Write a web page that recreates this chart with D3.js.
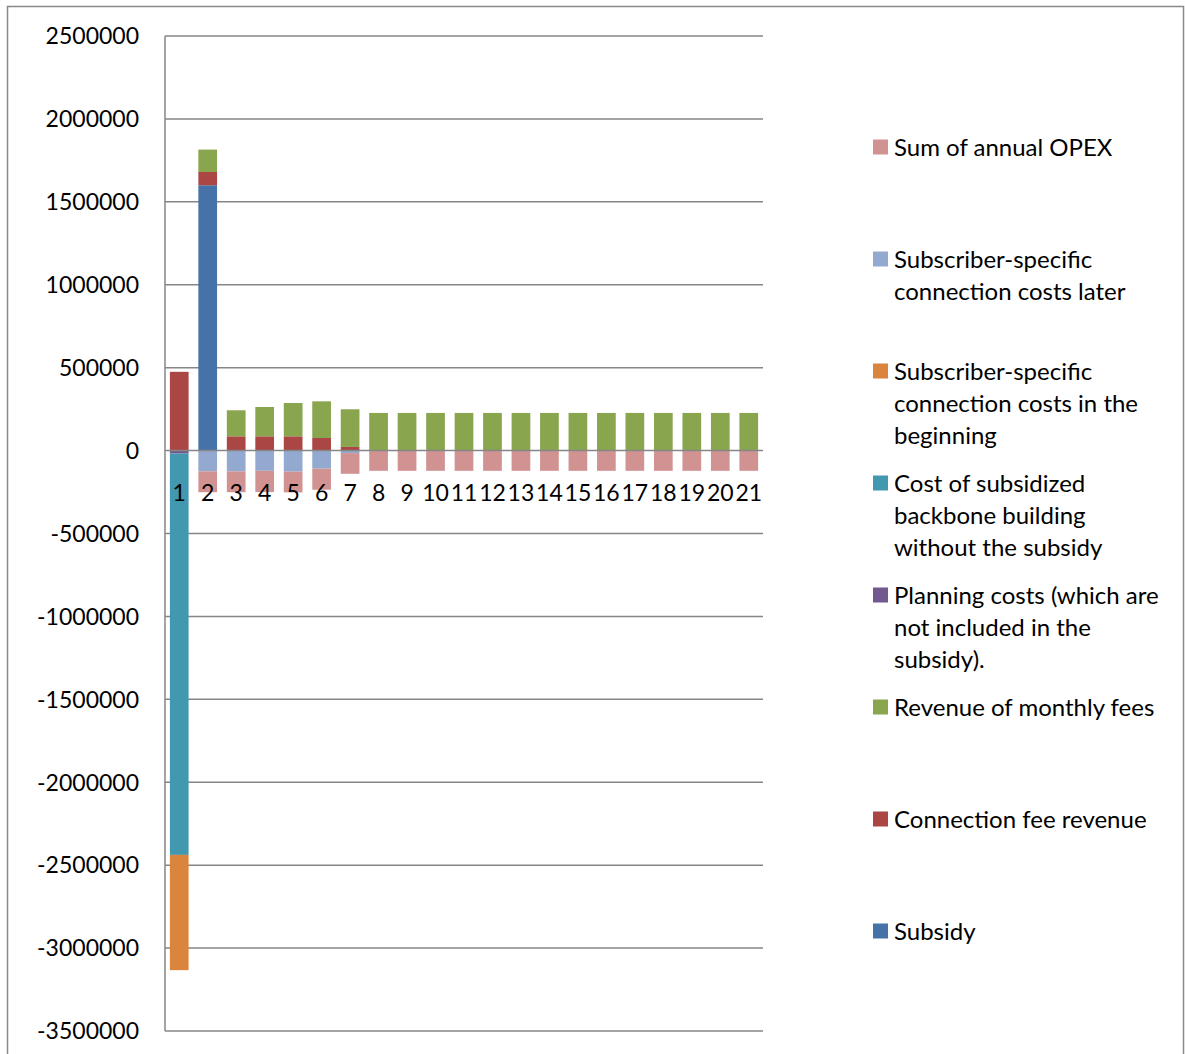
<!DOCTYPE html>
<html>
<head>
<meta charset="utf-8">
<script src="https://cdn.jsdelivr.net/npm/d3@7"></script>
<style>
  body { margin: 0; background: #ffffff; }
  text { font-family: Lato, "Open Sans", sans-serif; fill: #000000; }
</style>
</head>
<body>
<div id="chart_area"></div>
<script>

// categories (years 1..21)
var categories = ["1","2","3","4","5","6","7","8","9","10","11","12","13","14","15","16","17","18","19","20","21"];

// series values, in excel series order
var subsidy =        [0, 1600000, 0, 0, 0, 0, 0, 0, 0, 0, 0, 0, 0, 0, 0, 0, 0, 0, 0, 0, 0];
var connectionFee =  [475000, 80000, 86000, 86000, 86000, 76000, 22000, 0, 0, 0, 0, 0, 0, 0, 0, 0, 0, 0, 0, 0, 0];
var monthlyFees =    [0, 135000, 157000, 177000, 201000, 221000, 227000, 227000, 227000, 227000, 227000, 227000, 227000, 227000, 227000, 227000, 227000, 227000, 227000, 227000, 227000];
var planningCosts =  [-18000, 0, 0, 0, 0, 0, 0, 0, 0, 0, 0, 0, 0, 0, 0, 0, 0, 0, 0, 0, 0];
var backboneCost =   [-2420000, 0, 0, 0, 0, 0, 0, 0, 0, 0, 0, 0, 0, 0, 0, 0, 0, 0, 0, 0, 0];
var subsBeginning =  [-695000, 0, 0, 0, 0, 0, 0, 0, 0, 0, 0, 0, 0, 0, 0, 0, 0, 0, 0, 0, 0];
var subsLater =      [0, -125000, -125000, -122000, -127000, -109000, -15000, 0, 0, 0, 0, 0, 0, 0, 0, 0, 0, 0, 0, 0, 0];
var annualOpex =     [0, -126000, -126000, -128000, -125000, -127000, -125000, -122000, -122000, -122000, -122000, -122000, -122000, -122000, -122000, -122000, -122000, -122000, -122000, -122000, -122000];

var yTicks = [2500000, 2000000, 1500000, 1000000, 500000, 0, -500000, -1000000, -1500000, -2000000, -2500000, -3000000, -3500000];

var series = [
    { key: "subsidy", values: subsidy, color: "#4572A7", label: ["Subsidy"] },
    { key: "connectionFee", values: connectionFee, color: "#AA4643", label: ["Connection fee revenue"] },
    { key: "monthlyFees", values: monthlyFees, color: "#89A54E", label: ["Revenue of monthly fees"] },
    { key: "planningCosts", values: planningCosts, color: "#71588F", label: ["Planning costs (which are", "not included in the", "subsidy)."] },
    { key: "backboneCost", values: backboneCost, color: "#4198AF", label: ["Cost of subsidized", "backbone building", "without the subsidy"] },
    { key: "subsBeginning", values: subsBeginning, color: "#DB843D", label: ["Subscriber-specific", "connection costs in the", "beginning"] },
    { key: "subsLater", values: subsLater, color: "#93A9CF", label: ["Subscriber-specific", "connection costs later"] },
    { key: "annualOpex", values: annualOpex, color: "#D19392", label: ["Sum of annual OPEX"] }
];

var width = 1185, height = 1054;
var plot = { left: 165, right: 763, top: 36, bottom: 1031 };

var svg = d3.select("#chart_area").append("svg")
    .attr("width", width)
    .attr("height", height);

// chart area border
svg.append("rect")
    .attr("x", 7.5).attr("y", 6.5)
    .attr("width", 1176).attr("height", 1060)
    .style("fill", "none")
    .style("stroke", "#898989")
    .style("stroke-width", 1.5);

var x = d3.scaleBand()
    .domain(categories)
    .range([plot.left, plot.right])
    .paddingInner(0.343)
    .paddingOuter(0.1715);

var y = d3.scaleLinear()
    .domain([-3500000, 2500000])
    .range([plot.bottom, plot.top]);

// gridlines
svg.append("g").selectAll("line")
    .data(yTicks.filter(function(d) { return d != 0; }))
    .enter().append("line")
    .attr("x1", plot.left).attr("x2", plot.right)
    .attr("y1", function(d) { return y(d); })
    .attr("y2", function(d) { return y(d); })
    .style("stroke", "#868686")
    .style("stroke-width", 1.5);

// y tick labels
svg.append("g").selectAll("text")
    .data(yTicks)
    .enter().append("text")
    .attr("x", 139)
    .attr("y", function(d) { return y(d); })
    .attr("dy", "0.36em")
    .attr("text-anchor", "end")
    .attr("font-size", 23)
    .text(function(d) { return d; });

// stacked bars
var table = categories.map(function(c, i) {
    var row = { cat: c };
    series.forEach(function(s) { row[s.key] = s.values[i]; });
    return row;
});

var stack = d3.stack()
    .keys(series.map(function(s) { return s.key; }))
    .offset(d3.stackOffsetDiverging);

var layers = stack(table);

svg.append("g").selectAll("g")
    .data(layers)
    .enter().append("g")
    .style("fill", function(d, i) { return series[i].color; })
    .selectAll("rect")
    .data(function(d) { return d; })
    .enter().append("rect")
    .attr("x", function(d) { return x(d.data.cat); })
    .attr("width", x.bandwidth())
    .attr("y", function(d) { return y(Math.max(d[0], d[1])); })
    .attr("height", function(d) { return Math.abs(y(d[0]) - y(d[1])); });

// axis lines
svg.append("line")
    .attr("x1", plot.left).attr("x2", plot.left)
    .attr("y1", plot.top).attr("y2", plot.bottom)
    .style("stroke", "#868686")
    .style("stroke-width", 1.5);

svg.append("line")
    .attr("x1", plot.left).attr("x2", plot.right)
    .attr("y1", y(0)).attr("y2", y(0))
    .style("stroke", "#868686")
    .style("stroke-width", 1.5);

// category labels
svg.append("g").selectAll("text")
    .data(categories)
    .enter().append("text")
    .attr("x", function(d) { return x(d) + x.bandwidth() / 2; })
    .attr("y", y(0) + 42)
    .attr("dy", "0.36em")
    .attr("text-anchor", "middle")
    .attr("font-size", 23)
    .text(function(d) { return d; });

// legend, reversed order like excel
var legendItems = series.slice().reverse();

var legend = svg.append("g").selectAll("g")
    .data(legendItems)
    .enter().append("g")
    .attr("transform", function(d, i) { return "translate(873," + (147 + i * 112) + ")"; });

legend.append("rect")
    .attr("x", 0).attr("y", -7.5)
    .attr("width", 15).attr("height", 15)
    .style("fill", function(d) { return d.color; });

legend.selectAll("text")
    .data(function(d) { return d.label; })
    .enter().append("text")
    .attr("x", 21)
    .attr("y", function(d, i) { return i * 32.3; })
    .attr("dy", "0.36em")
    .attr("font-size", 24)
    .text(function(d) { return d; });

</script>
</body>
</html>
